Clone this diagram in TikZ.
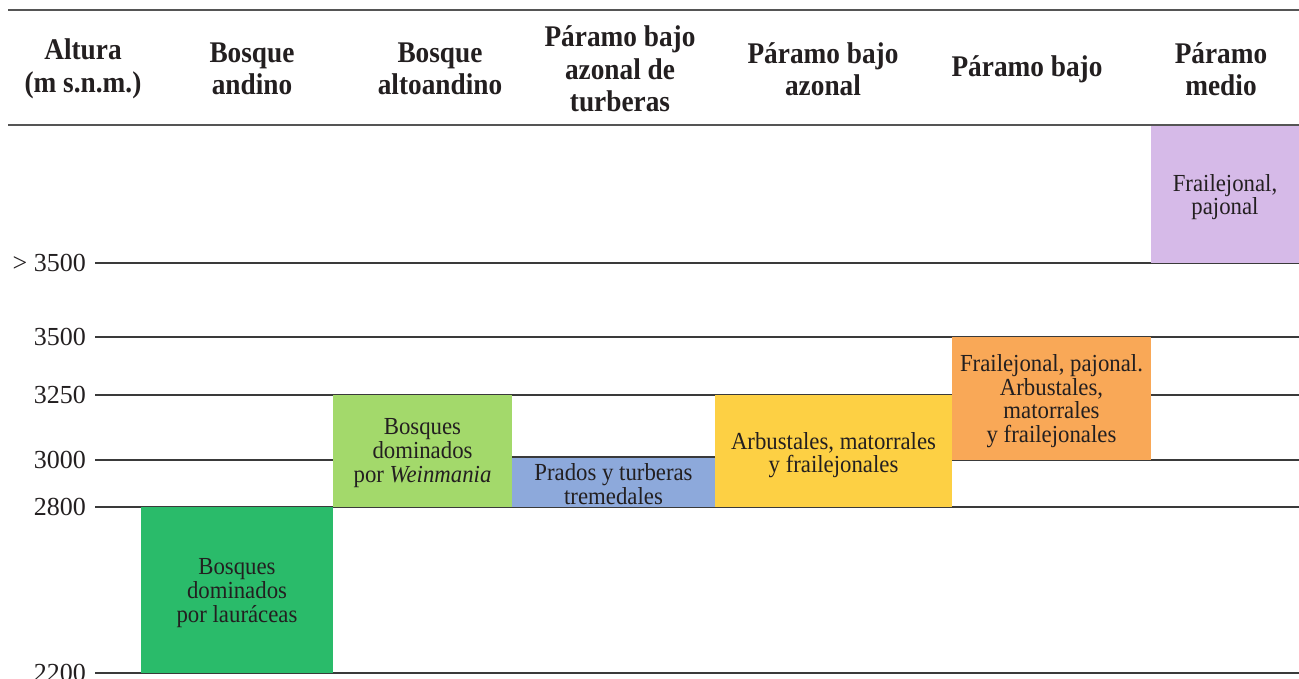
\documentclass[tikz,border=0pt]{standalone}
\usepackage{fontspec}
\setmainfont{Liberation Serif}
\newfontfamily\hdrfont[FakeStretch=0.91]{Liberation Serif}
\newfontfamily\zonefont[FakeStretch=0.93]{Liberation Serif}
\definecolor{txt}{HTML}{231F20}
\definecolor{linec}{HTML}{3A3A3A}
\definecolor{rulec}{HTML}{555555}
\definecolor{cA}{HTML}{2ABB6A}
\definecolor{cB}{HTML}{A3D96B}
\definecolor{cC}{HTML}{8DA9DB}
\definecolor{cD}{HTML}{FDD044}
\definecolor{cE}{HTML}{F9A857}
\definecolor{cF}{HTML}{D6BAE8}
\begin{document}
\begin{tikzpicture}[x=1pt,y=-1pt,
  hdr/.style={font=\hdrfont\bfseries\fontsize{30}{32.5}\selectfont, align=center, text=txt, inner sep=0pt},
  lbl/.style={font=\fontsize{26}{26}\selectfont, anchor=east, inner sep=0pt, text=txt},
  zone/.style={inner sep=0pt, outer sep=0pt, align=center, font=\zonefont\fontsize{24.5}{23.6}\selectfont, text=txt},
  gridline/.style={line width=1.1pt, draw=linec},
  rulel/.style={line width=1.6pt, draw=rulec}]
\useasboundingbox (0,0) rectangle (1299,679);
% header rules
\coordinate (rt0) at (8,10); \coordinate (rt1) at (1299,10);
\coordinate (rb0) at (8,125); \coordinate (rb1) at (1299,125);
\draw[rulel] (rt0) -- (rt1);
\draw[rulel] (rb0) -- (rb1);
% headers
\node[hdr] (h1) at (83,69) {Altura\\(m s.n.m.)};
\node[hdr] (h2) at (252,69) {Bosque\\andino};
\node[hdr] (h3) at (440,69) {Bosque\\altoandino};
\node[hdr] (h4) at (620,69) {Páramo bajo\\azonal de\\turberas};
\node[hdr] (h5) at (823,69) {Páramo bajo\\azonal};
\node[hdr] (h6) at (1027,69) {Páramo bajo};
\node[hdr] (h7) at (1221,69) {Páramo\\medio};
% grid lines and labels
\foreach \y/\t/\n in {263/{> 3500}/a, 337/3500/b, 395/3250/c, 460/3000/d, 507/2800/e, 673/2200/f}{
  \coordinate (g\n0) at (95,\y);
  \coordinate (g\n1) at (1299,\y);
  \draw[gridline] (g\n0) -- (g\n1);
  \node[lbl] (l\n) at (86,\y) {\t};
}
% zones
\node[zone, fill=cA, minimum width=192pt, minimum height=166pt] (bA) at (237,590) {};
\node[zone] (tA) at (237,593) {Bosques\\dominados\\por lauráceas};
\node[zone, fill=cB, minimum width=179pt, minimum height=112pt] (bB) at (422.5,451) {};
\node[zone] (tB) at (422.5,453) {Bosques\\dominados\\por \textit{Weinmania}};
\node[zone, fill=cC, minimum width=203pt, minimum height=50pt] (bC) at (613.5,482) {};
\node[zone] (tC) at (613.5,484) {Prados y turberas\\tremedales};
\draw[gridline] (bC.north west) -- (bC.north east);
\node[zone, fill=cD, minimum width=237pt, minimum height=112pt] (bD) at (833.5,451) {};
\node[zone] (tD) at (833.5,455) {Arbustales, matorrales\\y frailejonales};
\node[zone, fill=cE, minimum width=199pt, minimum height=123pt] (bE) at (1051.5,398.5) {};
\node[zone] (tE) at (1051.5,401) {Frailejonal, pajonal.\\Arbustales,\\matorrales\\y frailejonales};
\node[zone, fill=cF, minimum width=148pt, minimum height=137pt] (bF) at (1225,194.5) {};
\node[zone] (tF) at (1225,197) {Frailejonal,\\pajonal};
\end{tikzpicture}
\end{document}
